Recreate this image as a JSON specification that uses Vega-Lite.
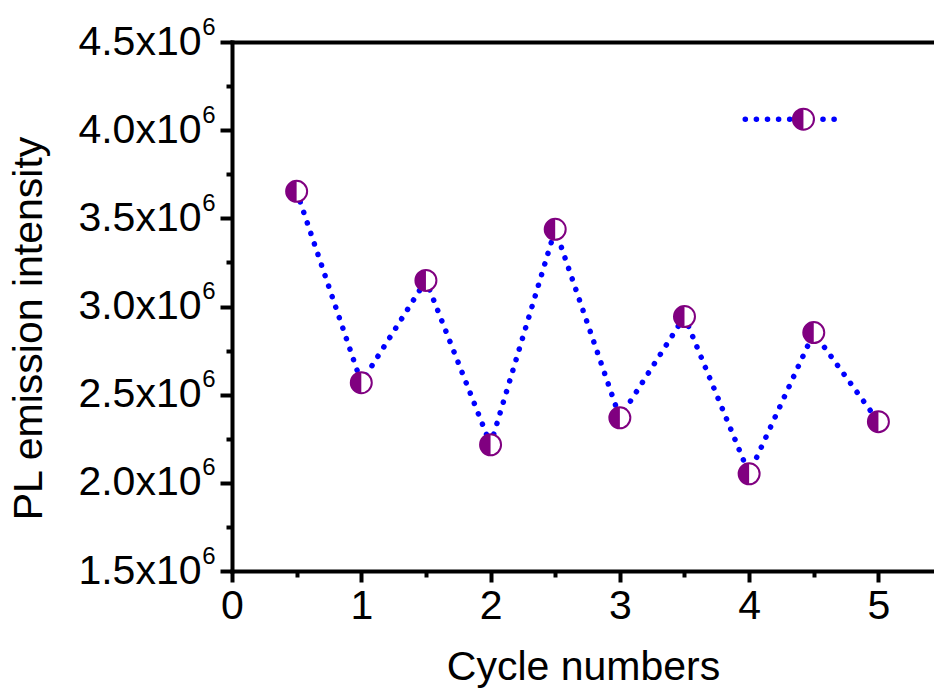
{
  "$schema": "https://vega.github.io/schema/vega-lite/v6.json",
  "width": 702,
  "height": 529,
  "autosize": {"type": "none"},
  "padding": {"left": 232, "top": 42, "right": 0, "bottom": 122},
  "background": "white",
  "config": {
    "view": {"stroke": null},
    "font": "Liberation Sans",
    "axis": {"labelFont": "Liberation Sans", "titleFont": "Liberation Sans", "titleFontWeight": "normal", "labelColor": "black", "titleColor": "black", "domainColor": "black", "tickColor": "black", "domainWidth": 4, "tickWidth": 4, "grid": false, "domainCap": "square"}
  },
  "datasets": {
    "main": [
      {"cycle": 0.5, "intensity": 3653000},
      {"cycle": 1.0, "intensity": 2568000},
      {"cycle": 1.5, "intensity": 3148000},
      {"cycle": 2.0, "intensity": 2216000},
      {"cycle": 2.5, "intensity": 3438000},
      {"cycle": 3.0, "intensity": 2369000},
      {"cycle": 3.5, "intensity": 2943000},
      {"cycle": 4.0, "intensity": 2051000},
      {"cycle": 4.5, "intensity": 2852000},
      {"cycle": 5.0, "intensity": 2347000}
    ],
    "keyline": [
      {"cycle": 3.97, "intensity": 4062000},
      {"cycle": 4.68, "intensity": 4062000}
    ],
    "keypoint": [
      {"cycle": 4.42, "intensity": 4062000}
    ]
  },
  "layer": [
    {
      "data": {"name": "main"},
      "mark": {"type": "line", "color": "#0000ff", "strokeWidth": 5.5, "strokeDash": [0.1, 11], "strokeCap": "round"},
      "encoding": {
        "x": {"field": "cycle", "type": "quantitative",
          "scale": {"domain": [0, 5.43], "nice": false, "zero": false},
          "axis": {"orient": "bottom", "values": [0, 1, 2, 3, 4, 5], "format": "d", "tickSize": 11, "labelFontSize": 41, "labelPadding": 4, "title": "Cycle numbers", "titleFontSize": 41, "titlePadding": 21, "labelFlush": false}},
        "y": {"field": "intensity", "type": "quantitative",
          "scale": {"domain": [1500000, 4500000], "nice": false, "zero": false},
          "axis": {"orient": "left", "values": [1500000, 2000000, 2500000, 3000000, 3500000, 4000000, 4500000], "labelExpr": "format(datum.value/1000000, '.1f') + 'x10'", "tickSize": 12, "labelFontSize": 41, "labelPadding": 19, "title": "PL emission intensity", "titleFontSize": 41, "titlePadding": 27, "titleY": 286}}
      }
    },
    {
      "data": {"name": "main"},
      "mark": {"type": "point", "shape": "circle", "filled": true, "fill": "white", "stroke": "#800080", "strokeWidth": 2, "size": 441, "opacity": 1},
      "encoding": {
        "x": {"field": "cycle", "type": "quantitative",
          "axis": {"orient": "bottom", "values": [0.5, 1.5, 2.5, 3.5, 4.5], "tickSize": 6, "labels": false, "title": null, "domain": false}},
        "y": {"field": "intensity", "type": "quantitative",
          "axis": {"orient": "left", "values": [1750000, 2250000, 2750000, 3250000, 3750000, 4250000], "tickSize": 6, "labels": false, "title": null, "domain": false}}
      }
    },
    {
      "data": {"name": "main"},
      "mark": {"type": "point", "shape": "M 0 -1 A 1 1 0 0 0 0 1 Z", "filled": true, "color": "#800080", "size": 441, "opacity": 1, "strokeWidth": 0},
      "encoding": {
        "x": {"field": "cycle", "type": "quantitative",
          "axis": {"orient": "top", "ticks": false, "labels": false, "title": null, "domain": true}},
        "y": {"field": "intensity", "type": "quantitative",
          "axis": {"orient": "left", "values": [1500000, 2000000, 2500000, 3000000, 3500000, 4000000, 4500000], "labelExpr": "'6'", "tickSize": 12, "tickOpacity": 0, "labelFontSize": 24, "labelPadding": 5, "labelOffset": -15, "title": null, "domain": false}}
      }
    },
    {
      "data": {"name": "keyline"},
      "mark": {"type": "line", "color": "#0000ff", "strokeWidth": 5.5, "strokeDash": [0.1, 11], "strokeCap": "round"},
      "encoding": {
        "x": {"field": "cycle", "type": "quantitative", "axis": null},
        "y": {"field": "intensity", "type": "quantitative", "axis": null}
      }
    },
    {
      "data": {"name": "keypoint"},
      "mark": {"type": "point", "shape": "circle", "filled": true, "fill": "white", "stroke": "#800080", "strokeWidth": 2, "size": 441, "opacity": 1},
      "encoding": {
        "x": {"field": "cycle", "type": "quantitative", "axis": null},
        "y": {"field": "intensity", "type": "quantitative", "axis": null}
      }
    },
    {
      "data": {"name": "keypoint"},
      "mark": {"type": "point", "shape": "M 0 -1 A 1 1 0 0 0 0 1 Z", "filled": true, "color": "#800080", "size": 441, "opacity": 1, "strokeWidth": 0},
      "encoding": {
        "x": {"field": "cycle", "type": "quantitative", "axis": null},
        "y": {"field": "intensity", "type": "quantitative", "axis": null}
      }
    }
  ],
  "resolve": {"axis": {"x": "independent", "y": "independent"}}
}
